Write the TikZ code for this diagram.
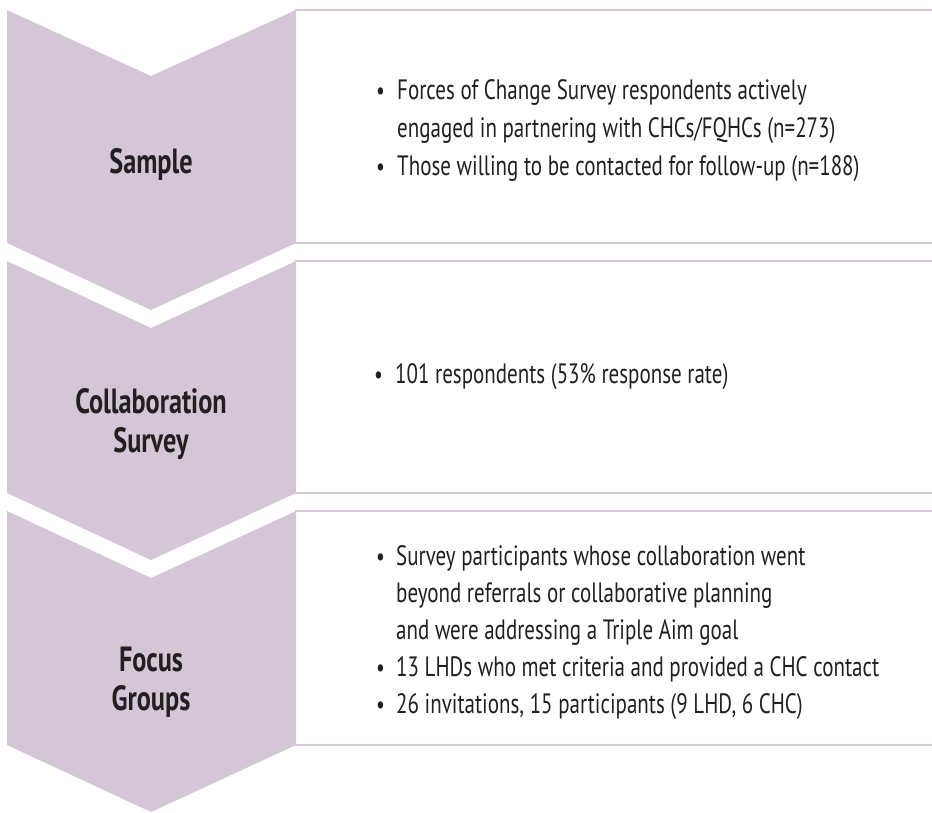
\documentclass[tikz,border=0pt]{standalone}
\usepackage{fontspec}
\setmainfont{PT Sans}[FakeStretch=0.75]
\begin{document}
\definecolor{chevfill}{HTML}{D5C6D7}
\definecolor{rulecol}{HTML}{D6C8D9}
\definecolor{ink}{HTML}{231F20}
\begin{tikzpicture}[x=1pt,y=-1pt,
  chevron/.style={fill=chevfill},
  boxrule/.style={draw=rulecol,line width=2pt},
  steplabel/.style={anchor=base,text=ink,inner sep=0pt,font=\fontsize{35}{39}\selectfont\bfseries},
  bul/.style={anchor=base west,text=ink,inner sep=0pt,font=\fontsize{26}{37}\selectfont},
  item/.style={anchor=base west,text=ink,inner sep=0pt,font=\fontsize{28}{37}\selectfont}]
\useasboundingbox (0,0) rectangle (932,812);

% chevrons
\fill[chevron] (7,10) -- (151,76) -- (296,10) -- (296,243) -- (151,310) -- (7,243) -- cycle;
\fill[chevron] (7,261) -- (151,328) -- (296,261) -- (296,493) -- (151,560) -- (7,493) -- cycle;
\fill[chevron] (7,511) -- (151,578) -- (296,511) -- (296,745) -- (151,812) -- (7,745) -- cycle;

% box edges
\coordinate (b1tl) at (295,10);  \coordinate (b1tr) at (932,10);
\coordinate (b1bl) at (295,243); \coordinate (b1br) at (932,243);
\coordinate (b2tl) at (295,261); \coordinate (b2tr) at (932,261);
\coordinate (b2bl) at (295,493); \coordinate (b2br) at (932,493);
\coordinate (b3tl) at (295,511); \coordinate (b3tr) at (932,511);
\coordinate (b3bl) at (295,745); \coordinate (b3br) at (932,745);
\draw[boxrule] (b1tl) -- (b1tr) (b1bl) -- (b1br);
\draw[boxrule] (b2tl) -- (b2tr) (b2bl) -- (b2br);
\draw[boxrule] (b3tl) -- (b3tr) (b3bl) -- (b3br);

% step labels
\node[steplabel] (sample) at (151,173) {Sample};
\node[steplabel] (collab1) at (151,413) {Collaboration};
\node[steplabel] (collab2) at (151,452) {Survey};
\node[steplabel] (focus1) at (151,671) {Focus};
\node[steplabel] (focus2) at (151,710) {Groups};

% sample items
\node[bul] (s1b) at (376,99) {\textbullet};
\node[item] (s1a) at (397,99) {Forces of Change Survey respondents actively};
\node[item] (s1c) at (397,137) {engaged in partnering with CHCs/FQHCs (n=273)};
\node[bul] (s2b) at (376,175) {\textbullet};
\node[item] (s2a) at (397,175) {Those willing to be contacted for follow-up (n=188)};

% survey items
\node[bul] (c1b) at (374,383) {\textbullet};
\node[item] (c1a) at (395,383) {101 respondents (53\% response rate)};

% focus group items
\node[bul] (f1b) at (376,565) {\textbullet};
\node[item] (f1a) at (396,565) {Survey participants whose collaboration went};
\node[item] (f1c) at (396,602) {beyond referrals or collaborative planning};
\node[item] (f1d) at (396,639) {and were addressing a Triple Aim goal};
\node[bul] (f2b) at (376,676) {\textbullet};
\node[item] (f2a) at (396,676) {13 LHDs who met criteria and provided a CHC contact};
\node[bul] (f3b) at (376,713) {\textbullet};
\node[item] (f3a) at (396,713) {26 invitations, 15 participants (9 LHD, 6 CHC)};
\end{tikzpicture}
\end{document}
